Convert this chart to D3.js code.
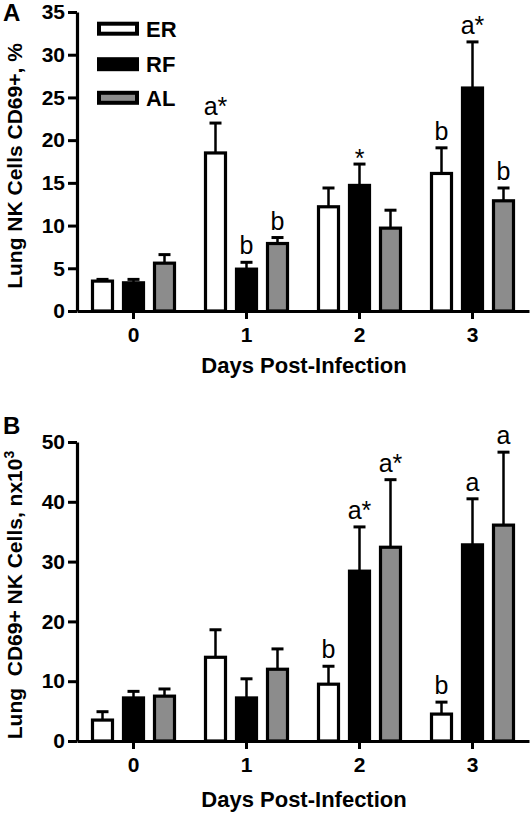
<!DOCTYPE html>
<html><head><meta charset="utf-8">
<script src="https://cdn.jsdelivr.net/npm/d3@7"></script>
<style>
body{margin:0;background:#fff}
svg{display:block}
text{font-family:"Liberation Sans",Arial,Helvetica,sans-serif}
</style>
</head><body>
<svg id="chart" width="531" height="815"></svg>
<script>
// ---------- data ----------
const days = ["0", "1", "2", "3"];
const groups = ["ER", "RF", "AL"];

// Panel A: Lung NK cells CD69+, %
const aTicks = [0, 5, 10, 15, 20, 25, 30, 35];
const aER = [3.5, 18.5, 12.2, 16.1];
const aRF = [3.3, 4.9, 14.7, 26.1];
const aAL = [5.6, 7.9, 9.7, 12.9];
const aERsem = [0.2, 3.5, 2.2, 3.0];
const aRFsem = [0.4, 0.8, 2.5, 5.4];
const aALsem = [1.0, 0.7, 2.1, 1.5];
const aERsig = ["", "a*", "", "b"];
const aRFsig = ["", "b", "*", "a*"];
const aALsig = ["", "b", "", "b"];

// Panel B: Lung CD69+ NK cells, n x10^3
const bTicks = [0, 10, 20, 30, 40, 50];
const bER = [3.5, 14.0, 9.5, 4.5];
const bRF = [7.2, 7.2, 28.4, 32.8];
const bAL = [7.5, 12.0, 32.4, 36.1];
const bERsem = [1.4, 4.6, 3.0, 2.0];
const bRFsem = [1.1, 3.2, 7.4, 7.7];
const bALsem = [1.2, 3.4, 11.3, 12.2];
const bERsig = ["", "", "b", "b"];
const bRFsig = ["", "", "a*", "a"];
const bALsig = ["", "", "a*", "a"];

// ---------- styles ----------
const fills = {ER: "#ffffff", RF: "#000000", AL: "#8c8c8c"};
const svg = d3.select("#chart");

const x = d3.scaleBand().domain(days).range([77, 529]).padding(0);
const sub = d3.scalePoint().domain(groups).range([-31, 31]);

function panel(cfg) {
  const y = d3.scaleLinear().domain([0, d3.max(cfg.ticks)]).range([cfg.y0, cfg.y1]);
  const g = svg.append("g");

  cfg.series.forEach(s => {
    days.forEach((d, i) => {
      const cx = x(d) + x.bandwidth() / 2 + sub(s.name);
      const top = s.mean[i] + s.sem[i];
      g.append("line").attr("x1", cx).attr("x2", cx)
        .attr("y1", y(s.mean[i])).attr("y2", y(top))
        .attr("stroke", "#000").attr("stroke-width", 2.5);
      g.append("line").attr("x1", cx - 6).attr("x2", cx + 6)
        .attr("y1", y(top)).attr("y2", y(top))
        .attr("stroke", "#000").attr("stroke-width", 3);
      g.append("rect")
        .attr("x", cx - 10).attr("width", 20)
        .attr("y", y(s.mean[i])).attr("height", y(0) - y(s.mean[i]))
        .attr("fill", fills[s.name]).attr("stroke", "#000").attr("stroke-width", 3.2);
      if (s.sig[i]) {
        const star = s.sig[i] === "*";
        g.append("text").attr("x", cx)
          .attr("y", y(top) + (star ? 3 : -8))
          .attr("text-anchor", "middle")
          .attr("font-size", 25)
          .text(s.sig[i]);
      }
    });
  });

  const ya = g.append("g").attr("transform", "translate(77,0)")
    .call(d3.axisLeft(y).tickValues(cfg.ticks).tickSize(9).tickSizeOuter(0).tickPadding(3));
  ya.select(".domain").attr("stroke-width", 3.2);
  ya.selectAll(".tick line").attr("stroke-width", 3);
  ya.selectAll(".tick text").attr("font-size", 21).attr("font-weight", "bold")
    .attr("font-family", "'Liberation Sans', Arial, sans-serif").attr("fill", "#000");

  const xa = g.append("g").attr("transform", `translate(0,${cfg.y0})`)
    .call(d3.axisBottom(x).tickSize(8).tickSizeOuter(0).tickPadding(8));
  xa.select(".domain").attr("stroke-width", 3.2);
  xa.selectAll(".tick line").attr("stroke-width", 3);
  xa.selectAll(".tick text").attr("font-size", 21).attr("font-weight", "bold")
    .attr("font-family", "'Liberation Sans', Arial, sans-serif").attr("fill", "#000");

  g.append("text").attr("x", 304).attr("y", cfg.xTitleY)
    .attr("text-anchor", "middle").attr("font-size", 22).attr("font-weight", "bold")
    .text("Days Post-Infection");

  g.append("text").attr("x", 3).attr("y", cfg.letterY)
    .attr("font-size", 24).attr("font-weight", "bold").text(cfg.letter);

  return {g, y};
}

const A = panel({
  y0: 311, y1: 12, ticks: aTicks, xTitleY: 373, letterY: 21, letter: "A",
  series: [
    {name: "ER", mean: aER, sem: aERsem, sig: aERsig},
    {name: "RF", mean: aRF, sem: aRFsem, sig: aRFsig},
    {name: "AL", mean: aAL, sem: aALsem, sig: aALsig}
  ]
});
A.g.append("text")
  .attr("transform", "translate(22,166) rotate(-90)")
  .attr("text-anchor", "middle").attr("font-size", 21).attr("font-weight", "bold")
  .text("Lung NK Cells CD69+, %");

const legY = [28.7, 64.2, 97.8];
groups.forEach((gname, i) => {
  A.g.append("rect").attr("x", 99).attr("y", legY[i] - 5).attr("width", 38).attr("height", 10)
    .attr("fill", fills[gname]).attr("stroke", "#000").attr("stroke-width", 4);
  A.g.append("text").attr("x", 146).attr("y", legY[i]).attr("dy", "0.36em")
    .attr("font-size", 22).attr("font-weight", "bold").text(gname);
});

const B = panel({
  y0: 741, y1: 442, ticks: bTicks, xTitleY: 807, letterY: 434, letter: "B",
  series: [
    {name: "ER", mean: bER, sem: bERsem, sig: bERsig},
    {name: "RF", mean: bRF, sem: bRFsem, sig: bRFsig},
    {name: "AL", mean: bAL, sem: bALsem, sig: bALsig}
  ]
});
const bt = B.g.append("text")
  .attr("transform", "translate(22,595) rotate(-90)")
  .attr("text-anchor", "middle").attr("font-size", 21).attr("font-weight", "bold")
  .attr("xml:space", "preserve").style("white-space", "pre");
bt.append("tspan").text("Lung  CD69+ NK Cells, nx10");
bt.append("tspan").attr("font-size", 14).attr("dy", "-0.6em").text("3");
</script>
</body></html>
